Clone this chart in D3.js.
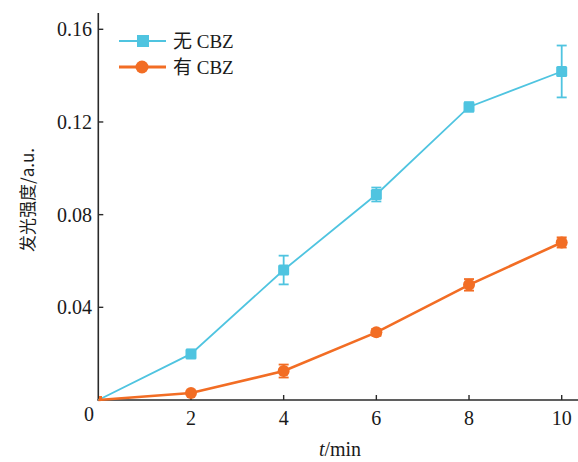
<!DOCTYPE html>
<html><head><meta charset="utf-8">
<script src="https://cdn.jsdelivr.net/npm/d3@7"></script>
<style>body{margin:0;background:#fff} .sf{font-family:"Liberation Serif","Tinos","Times New Roman","DejaVu Serif",serif}</style>
</head><body>
<svg id="c" width="578" height="462"></svg>
<script>
const times = [0, 2, 4, 6, 8, 10];
const noCBZ = [0, 0.0199, 0.0561, 0.0887, 0.1265, 0.1418];
const noCBZErr = [0, 0.0018, 0.0062, 0.0030, 0.0020, 0.0112];
const withCBZ = [0, 0.0030, 0.0125, 0.0292, 0.0497, 0.0680];
const withCBZErr = [0, 0.0008, 0.0028, 0.0015, 0.0025, 0.0022];
const xTicks = [2, 4, 6, 8, 10];
const yTicks = [0.04, 0.08, 0.12, 0.16];
const seriesNames = ["无 CBZ", "有 CBZ"];
const colors = ["#4FC4E0", "#F26D24"];

const svg = d3.select("#c");
const x = d3.scaleLinear().domain([0, 10]).range([98.3, 561.7]);
const y = d3.scaleLinear().domain([0, 0.16]).range([400, 29.3]);
const axisColor = "#2a2a2a";

svg.append("line").attr("x1", 98.3).attr("x2", 98.3).attr("y1", 13).attr("y2", 400.5)
  .attr("stroke", axisColor).attr("stroke-width", 1.6);
svg.append("line").attr("x1", 97.5).attr("x2", 578).attr("y1", 400).attr("y2", 400)
  .attr("stroke", axisColor).attr("stroke-width", 1.6);

yTicks.forEach(t => {
  svg.append("line").attr("x1", x(0)).attr("x2", x(0) + 5).attr("y1", y(t)).attr("y2", y(t))
    .attr("stroke", axisColor).attr("stroke-width", 1.4);
  svg.append("text").attr("class", "sf").attr("x", 92).attr("y", y(t)).attr("dy", "0.35em")
    .attr("text-anchor", "end").attr("font-size", 20)
    .attr("fill", "#1a1a1a").text(d3.format(".2f")(t));
});
xTicks.forEach(t => {
  svg.append("line").attr("x1", x(t)).attr("x2", x(t)).attr("y1", 400).attr("y2", 395)
    .attr("stroke", axisColor).attr("stroke-width", 1.4);
  svg.append("text").attr("class", "sf").attr("x", x(t)).attr("y", 425)
    .attr("text-anchor", "middle").attr("font-size", 20)
    .attr("fill", "#1a1a1a").text(t);
});
svg.append("text").attr("class", "sf").attr("x", 89).attr("y", 421).attr("text-anchor", "middle")
  .attr("font-size", 20).attr("fill", "#1a1a1a").text("0");

const xt = svg.append("text").attr("class", "sf").attr("x", 340).attr("y", 456).attr("text-anchor", "middle")
  .attr("font-size", 20).attr("fill", "#1a1a1a");
xt.append("tspan").attr("font-style", "italic").text("t");
xt.append("tspan").text("/min");

svg.append("text").attr("transform", "translate(28,200) rotate(-90)")
  .attr("text-anchor", "middle").attr("dy", "0.35em")
  .style("font-family", "'Noto Sans CJK SC', serif")
  .attr("font-size", 17).attr("fill", "#1a1a1a").text("发光强度/a.u.");

const series = [
  {vals: noCBZ, err: noCBZErr, color: colors[0], shape: "square", w: 1.8},
  {vals: withCBZ, err: withCBZErr, color: colors[1], shape: "circle", w: 2.6}
];
const line = d3.line().x(d => x(d[0])).y(d => y(d[1]));

series.forEach(s => {
  const pts = times.map((t, i) => [t, s.vals[i], s.err[i]]);
  svg.append("path").datum(pts).attr("d", line).attr("fill", "none")
    .attr("stroke", s.color).attr("stroke-width", s.w);
  pts.slice(1).forEach(p => {
    const cx = x(p[0]);
    if (p[2] > 0) {
      const y1 = y(p[1] + p[2]), y2 = y(p[1] - p[2]);
      svg.append("line").attr("x1", cx).attr("x2", cx).attr("y1", y1).attr("y2", y2)
        .attr("stroke", s.color).attr("stroke-width", 1.8);
      [y1, y2].forEach(yy => svg.append("line").attr("x1", cx - 5).attr("x2", cx + 5)
        .attr("y1", yy).attr("y2", yy).attr("stroke", s.color).attr("stroke-width", 1.8));
    }
    if (s.shape === "square") {
      svg.append("rect").attr("x", cx - 5.5).attr("y", y(p[1]) - 5.5).attr("width", 11).attr("height", 11)
        .attr("rx", 1.5).attr("fill", s.color);
    } else {
      svg.append("circle").attr("cx", cx).attr("cy", y(p[1])).attr("r", 6).attr("fill", s.color);
    }
  });
});
svg.append("rect").attr("x", 99).attr("y", 396).attr("width", 3).attr("height", 3).attr("fill", colors[1]);

const legY = [41, 67];
series.forEach((s, i) => {
  svg.append("line").attr("x1", 119).attr("x2", 166).attr("y1", legY[i]).attr("y2", legY[i])
    .attr("stroke", s.color).attr("stroke-width", i === 0 ? 2 : 3);
  if (s.shape === "square") {
    svg.append("rect").attr("x", 137).attr("y", legY[i] - 6).attr("width", 12).attr("height", 12)
      .attr("fill", s.color);
  } else {
    svg.append("circle").attr("cx", 142).attr("cy", legY[i]).attr("r", 6.5).attr("fill", s.color);
  }
  const t = svg.append("text").attr("x", 173).attr("y", legY[i]).attr("dy", "0.36em")
    .attr("font-size", 19).attr("fill", "#1a1a1a");
  const parts = seriesNames[i].split(" ");
  t.append("tspan").style("font-family", "'Noto Sans CJK SC', serif").text(parts[0]);
  t.append("tspan").attr("class", "sf").text(" " + parts[1]);
});
</script>
</body></html>
